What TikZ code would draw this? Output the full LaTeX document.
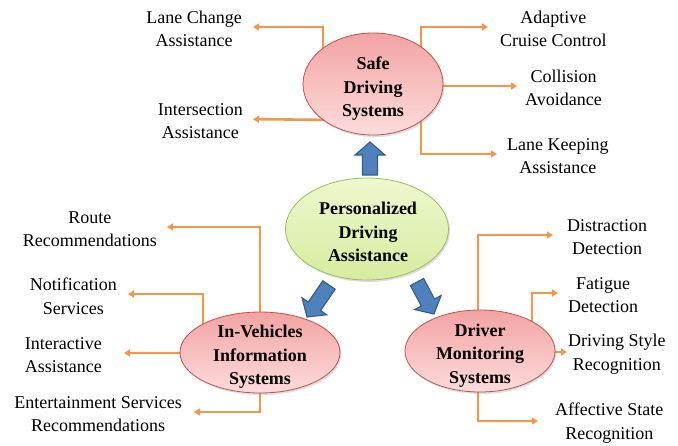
\documentclass[tikz,border=0pt]{standalone}
\usepackage{fontspec}
\setmainfont{Liberation Serif}
\usetikzlibrary{calc,backgrounds,shadows,shapes.geometric,arrows.meta}
\definecolor{conncol}{HTML}{F79646}
\definecolor{pinktop}{HTML}{F3A3A3}
\definecolor{pinkbot}{HTML}{FDDCDC}
\definecolor{pinkline}{HTML}{C0504D}
\definecolor{greentop}{HTML}{EEF8CF}
\definecolor{greenbot}{HTML}{D6EC9F}
\definecolor{greenline}{HTML}{9BBB59}
\definecolor{bluefill}{HTML}{4F81BD}
\definecolor{blueline}{HTML}{335B8C}
\tikzset{
  ellbase/.style={ellipse, inner sep=0pt, line width=0.8pt,
    drop shadow={shadow xshift=1.5pt, shadow yshift=-2pt, opacity=0.25}},
  pinkell/.style={ellbase, draw=pinkline, top color=pinktop, bottom color=pinkbot},
  greenell/.style={ellbase, draw=greenline, top color=greentop, bottom color=greenbot},
  etext/.style={align=center, inner sep=0pt, font=\fontsize{18}{23.5}\selectfont\bfseries},
  lbl/.style={align=center, inner sep=0pt, font=\fontsize{18}{23.5}\selectfont},
  conn/.style={draw=conncol, line width=2.6pt, -{Triangle[length=6pt,width=7pt]}},
  barrow/.style={fill=bluefill, draw=blueline, line width=1.1pt, line join=miter}
}
\newcommand{\blockarrow}[2]{%
  \draw[barrow] ($(#1)!7.5pt!90:(#2)$) -- ($($(#2)!13pt!(#1)$)!7.5pt!90:(#2)$)
    -- ($($(#2)!13pt!(#1)$)!15pt!90:(#2)$) -- (#2)
    -- ($($(#2)!13pt!(#1)$)!15pt!-90:(#2)$) -- ($($(#2)!13pt!(#1)$)!7.5pt!-90:(#2)$)
    -- ($(#1)!7.5pt!-90:(#2)$) -- cycle;}
\begin{document}
\begin{tikzpicture}[x=1pt,y=-1pt]
\useasboundingbox (0,0) rectangle (678,445);

% ellipses
\node[pinkell, minimum width=140pt, minimum height=102pt] (sds) at (373,84) {};
\node[greenell, minimum width=163pt, minimum height=102pt] (pda) at (367,229) {};
\node[pinkell, minimum width=160pt, minimum height=81pt] (ivis) at (260,352.5) {};
\node[pinkell, minimum width=150pt, minimum height=82pt] (dms) at (480,351) {};

\node[etext] (sdsT) at (373,89) {Safe\\Driving\\Systems};
\node[etext] (pdaT) at (368,232) {Personalized\\Driving\\Assistance};
\node[etext] (ivisT) at (260,357) {In-Vehicles\\Information\\Systems};
\node[etext] (dmsT) at (480,355.5) {Driver\\Monitoring\\Systems};

% labels left
\node[lbl, anchor=east] (lca) at (242,29) {Lane Change\\Assistance};
\node[lbl, anchor=east] (isa) at (243,121) {Intersection\\Assistance};
\node[lbl, anchor=east] (rr) at (157,229) {Route\\Recommendations};
\node[lbl, anchor=east] (ns) at (117,296) {Notification\\Services};
\node[lbl, anchor=east] (ia) at (102,355) {Interactive\\Assistance};
\node[lbl, anchor=east] (esr) at (182,414) {Entertainment Services\\Recommendations};
% labels right
\node[lbl, anchor=west] (acc) at (500,29) {Adaptive\\Cruise Control};
\node[lbl, anchor=west] (ca) at (525,88) {Collision\\Avoidance};
\node[lbl, anchor=west] (lka) at (507,156) {Lane Keeping\\Assistance};
\node[lbl, anchor=west] (dd) at (567,237) {Distraction\\Detection};
\node[lbl, anchor=west] (fd) at (568,295) {Fatigue\\Detection};
\node[lbl, anchor=west] (dsr) at (568,354) {Driving Style\\Recognition};
\node[lbl, anchor=west] (asr) at (555,423) {Affective State\\Recognition};

% connectors
\begin{scope}[on background layer]
\draw[conn, shorten >=11pt] ([xshift=-50pt]sds.center) |- ([yshift=2pt]lca.east);
\draw[conn, shorten >=10pt] ([shift={(-38pt,-36pt)}]sds.center) -- ([yshift=2pt]isa.east);
\draw[conn, shorten >=12pt] ([xshift=48pt]sds.center) |- ([yshift=2pt]acc.west);
\draw[conn, shorten >=8pt] ([shift={(0pt,-2pt)}]sds.center) -- ([yshift=2pt]ca.west);
\draw[conn, shorten >=10pt] ([xshift=48pt]sds.center) |- ([yshift=2pt]lka.west);

\draw[conn, shorten >=10pt] (ivis.center) |- ([yshift=2pt]rr.east);
\draw[conn, shorten >=11pt] ([xshift=-57pt]ivis.center) |- ([yshift=2pt]ns.east);
\draw[conn, shorten >=22pt] ([yshift=-0.5pt]ivis.center) -- ([yshift=2pt]ia.east);
\draw[conn, shorten >=12pt] (ivis.center) |- ([yshift=2pt]esr.east);

\draw[conn, shorten >=14pt] ([xshift=-2pt]dms.center) |- ([yshift=2pt]dd.west);
\draw[conn, shorten >=10pt] ([xshift=52pt]dms.center) |- ([yshift=2pt]fd.west);
\draw[conn, shorten >=1pt] ([yshift=-1pt]dms.center) -- ([yshift=2pt]dsr.west);
\draw[conn, shorten >=17pt] ([xshift=-2pt]dms.center) |- ([yshift=2pt]asr.west);
\end{scope}

% block arrows
\coordinate (upT) at (370,175);
\coordinate (upH) at (370,142);
\coordinate (lT) at (329,285);
\coordinate (lH) at (307,317);
\coordinate (rT) at (417,282);
\coordinate (rH) at (434,314);
\blockarrow{upT}{upH}
\blockarrow{lT}{lH}
\blockarrow{rT}{rH}
\end{tikzpicture}
\end{document}
